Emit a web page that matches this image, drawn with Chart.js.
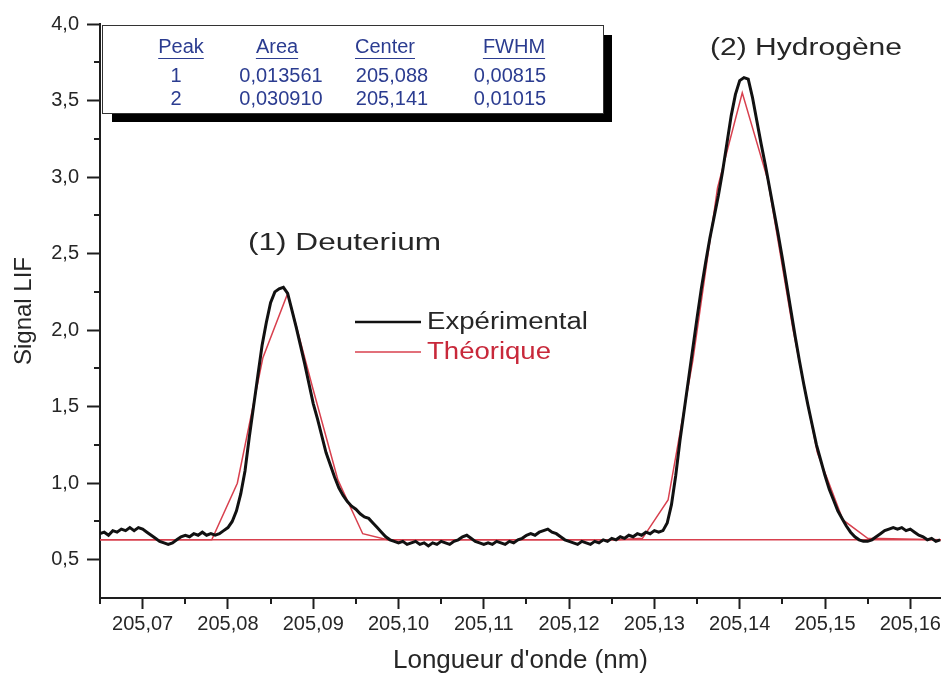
<!DOCTYPE html>
<html>
<head>
<meta charset="utf-8">
<script src="https://cdn.jsdelivr.net/npm/chart.js@4.4.1/dist/chart.umd.min.js"></script>
<style>
html, body { margin: 0; padding: 0; background: #fff; }
#wrap { width: 941px; height: 675px; }
</style>
</head>
<body>
<div id="wrap"><canvas id="chart"></canvas></div>
<script>
// experimental LIF signal, one reading every 0.0005 nm from 205.0650 nm
const expStart = 205.065;
const expStep = 0.0005;
const expSignal = [
    0.67, 0.68, 0.66, 0.69, 0.68, 0.70, 0.69, 0.71, 0.69, 0.71,
    0.70, 0.68, 0.66, 0.64, 0.62, 0.61, 0.60, 0.61, 0.63, 0.65,
    0.66, 0.65, 0.67, 0.66, 0.68, 0.66, 0.67, 0.66, 0.67, 0.69,
    0.71, 0.75, 0.82, 0.93, 1.08, 1.30, 1.50, 1.70, 1.90, 2.05,
    2.18, 2.25, 2.27, 2.28, 2.24, 2.13, 2.02, 1.90, 1.78, 1.65,
    1.52, 1.42, 1.31, 1.20, 1.12, 1.04, 0.97, 0.92, 0.88, 0.85,
    0.83, 0.80, 0.78, 0.77, 0.74, 0.71, 0.68, 0.65, 0.63, 0.62,
    0.61, 0.62, 0.60, 0.61, 0.62, 0.60, 0.61, 0.59, 0.61, 0.60,
    0.62, 0.61, 0.60, 0.62, 0.63, 0.65, 0.66, 0.64, 0.62, 0.61,
    0.60, 0.61, 0.60, 0.62, 0.61, 0.60, 0.62, 0.61, 0.63, 0.64,
    0.66, 0.67, 0.66, 0.68, 0.69, 0.70, 0.68, 0.67, 0.65, 0.63,
    0.62, 0.61, 0.60, 0.62, 0.61, 0.60, 0.62, 0.61, 0.63, 0.62,
    0.64, 0.63, 0.65, 0.64, 0.66, 0.65, 0.67, 0.66, 0.68, 0.67,
    0.69, 0.68, 0.69, 0.74, 0.86, 1.05, 1.28, 1.48, 1.68, 1.88,
    2.08, 2.27, 2.44, 2.60, 2.74, 2.88, 3.04, 3.22, 3.40, 3.54,
    3.63, 3.65, 3.64, 3.52, 3.37, 3.22, 3.08, 2.93, 2.78, 2.63,
    2.47, 2.30, 2.13, 1.96, 1.80, 1.65, 1.51, 1.38, 1.25, 1.15,
    1.05, 0.96, 0.89, 0.82, 0.77, 0.72, 0.68, 0.65, 0.63, 0.62,
    0.62, 0.63, 0.65, 0.67, 0.69, 0.70, 0.71, 0.70, 0.71, 0.69,
    0.70, 0.68, 0.66, 0.65, 0.63, 0.64, 0.62, 0.63
];

// fitted profile, read at the vertices of the red polyline
const fitWavelength = [205.0650, 205.0781, 205.0811, 205.0841, 205.0870, 205.0899, 205.0929,
    205.0958, 205.0987, 205.1257, 205.1286, 205.1316, 205.1345, 205.1374, 205.1403,
    205.1433, 205.1462, 205.1491, 205.1521, 205.1550, 205.1636];
const fitSignal = [0.63, 0.63, 1.00, 1.82, 2.24, 1.63, 1.02, 0.67, 0.63, 0.63, 0.64,
    0.89, 1.80, 2.93, 3.55, 2.98, 2.02, 1.20, 0.76, 0.64, 0.63];
const baseline = 0.63;

const xRange = [205.065, 205.1636];
const yRange = [0.25, 4.0];
const xTicks = [205.07, 205.08, 205.09, 205.10, 205.11, 205.12, 205.13, 205.14, 205.15, 205.16];
const xMinorTicks = [205.065, 205.075, 205.085, 205.095, 205.105, 205.115, 205.125, 205.135, 205.145, 205.155];
const yTicks = [0.5, 1.0, 1.5, 2.0, 2.5, 3.0, 3.5, 4.0];
const yMinorTicks = [0.75, 1.25, 1.75, 2.25, 2.75, 3.25, 3.75];

const tableHead = ['Peak', 'Area', 'Center', 'FWHM'];
const tableRows = [
    ['1', '0,013561', '205,088', '0,00815'],
    ['2', '0,030910', '205,141', '0,01015']
];

const axisColor = '#1e1e1e';
const textColor = '#262626';
const expColor = '#111111';
const fitColor = '#d8404e';
const tableColor = '#2b3c90';

const expPoints = expSignal.map(function (v, i) {
    return { x: expStart + i * expStep, y: v };
});
const fitPoints = fitWavelength.map(function (x, i) {
    return { x: x, y: fitSignal[i] };
});

const comma = function (v, d) { return Number(v).toFixed(d).replace('.', ','); };

function wideText(ctx, text, x, y, width, font, color) {
    ctx.save();
    ctx.font = font;
    ctx.fillStyle = color;
    ctx.textAlign = 'left';
    ctx.textBaseline = 'middle';
    const w = ctx.measureText(text).width;
    ctx.translate(x, y);
    ctx.scale(width / w, 1);
    ctx.fillText(text, 0, 0);
    ctx.restore();
}

const extras = {
    id: 'extras',
    afterDraw(chart) {
        const ctx = chart.ctx;
        const xs = chart.scales.x;
        const ys = chart.scales.y;
        ctx.save();

        // minor ticks
        ctx.strokeStyle = axisColor;
        ctx.lineWidth = 2;
        xMinorTicks.forEach(function (v) {
            const p = Math.round(xs.getPixelForValue(v));
            ctx.beginPath();
            ctx.moveTo(p, xs.top);
            ctx.lineTo(p, xs.top + 6);
            ctx.stroke();
        });
        yMinorTicks.forEach(function (v) {
            const p = Math.round(ys.getPixelForValue(v));
            ctx.beginPath();
            ctx.moveTo(ys.right, p);
            ctx.lineTo(ys.right - 6, p);
            ctx.stroke();
        });

        // peak labels
        wideText(ctx, '(1) Deuterium', 248, 244, 193, '23px Arial', textColor);
        wideText(ctx, '(2) Hydrogène', 710, 49, 192, '23px Arial', textColor);

        // legend
        const ds = chart.data.datasets;
        ctx.lineWidth = 2.5;
        ctx.strokeStyle = ds[0].borderColor;
        ctx.beginPath(); ctx.moveTo(355, 322); ctx.lineTo(421, 322); ctx.stroke();
        ctx.lineWidth = 1.5;
        ctx.strokeStyle = ds[1].borderColor;
        ctx.beginPath(); ctx.moveTo(355, 352); ctx.lineTo(421, 352); ctx.stroke();
        wideText(ctx, ds[0].label, 427, 323, 161, '23px Arial', textColor);
        wideText(ctx, ds[1].label, 427, 353, 124, '23px Arial', '#c8283a');

        // parameter table with drop shadow
        ctx.fillStyle = '#000';
        ctx.fillRect(112, 113, 500, 9);
        ctx.fillRect(603, 35, 9, 87);
        ctx.fillStyle = '#fff';
        ctx.fillRect(102, 25, 501, 88);
        ctx.lineWidth = 1;
        ctx.strokeStyle = '#333';
        ctx.strokeRect(102.5, 25.5, 501, 88);

        ctx.font = '20px Arial';
        ctx.fillStyle = tableColor;
        ctx.strokeStyle = tableColor;
        ctx.textAlign = 'center';
        ctx.textBaseline = 'middle';
        const headX = [181, 277, 385, 514];
        const cellX = [176, 281, 392, 510];
        tableHead.forEach(function (h, i) {
            ctx.fillText(h, headX[i], 47);
            const w = ctx.measureText(h).width;
            ctx.beginPath();
            ctx.moveTo(headX[i] - w / 2, 58.5);
            ctx.lineTo(headX[i] + w / 2, 58.5);
            ctx.stroke();
        });
        tableRows.forEach(function (row, r) {
            row.forEach(function (c, i) {
                ctx.fillText(c, cellX[i], 76 + r * 23);
            });
        });
        ctx.restore();
    }
};

const ctx = document.getElementById('chart').getContext('2d');
const myChart = new Chart(ctx, {
    type: 'line',
    data: {
        datasets: [{
            label: 'Expérimental',
            data: expPoints,
            borderColor: expColor,
            borderWidth: 3,
            pointRadius: 0,
            tension: 0
        }, {
            label: 'Théorique',
            data: fitPoints,
            borderColor: fitColor,
            borderWidth: 1.5,
            pointRadius: 0,
            tension: 0
        }, {
            label: 'baseline',
            data: [{ x: xRange[0], y: baseline }, { x: xRange[1], y: baseline }],
            borderColor: fitColor,
            borderWidth: 1.5,
            pointRadius: 0
        }]
    },
    options: {
        responsive: true,
        maintainAspectRatio: false,
        animation: false,
        layout: { padding: { top: 24, right: 0, left: 0, bottom: 0 } },
        scales: {
            x: {
                type: 'linear',
                position: 'bottom',
                min: xRange[0],
                max: xRange[1],
                afterBuildTicks: function (scale) {
                    scale.ticks = xTicks.map(function (v) { return { value: v }; });
                },
                afterFit: function (scale) {
                    scale.height = 77;
                    scale.paddingRight = 0;
                },
                grid: { drawOnChartArea: false, drawTicks: true, tickLength: 11, tickWidth: 2, tickColor: axisColor },
                border: { display: true, color: axisColor, width: 2 },
                ticks: {
                    color: textColor,
                    font: { family: 'Arial', size: 20 },
                    padding: 3,
                    maxRotation: 0,
                    autoSkip: false,
                    callback: function (v) { return comma(v, 2); }
                },
                title: {
                    display: true,
                    text: "Longueur d'onde (nm)",
                    color: textColor,
                    font: { family: 'Arial', size: 26, lineHeight: 1 },
                    padding: { top: 0, bottom: 1 }
                }
            },
            y: {
                min: yRange[0],
                max: yRange[1],
                afterBuildTicks: function (scale) {
                    scale.ticks = yTicks.map(function (v) { return { value: v }; });
                },
                afterFit: function (scale) { scale.width = 100; },
                grid: { drawOnChartArea: false, drawTicks: true, tickLength: 13, tickWidth: 2, tickColor: axisColor },
                border: { display: true, color: axisColor, width: 2 },
                ticks: {
                    color: textColor,
                    font: { family: 'Arial', size: 20 },
                    padding: 8,
                    callback: function (v) { return comma(v, 1); }
                },
                title: {
                    display: true,
                    text: 'Signal LIF',
                    color: textColor,
                    font: { family: 'Arial', size: 24, lineHeight: 1 },
                    padding: { top: 12, bottom: 0 }
                }
            }
        },
        plugins: {
            legend: { display: false },
            tooltip: { enabled: false }
        }
    },
    plugins: [extras]
});
</script>
</body>
</html>
